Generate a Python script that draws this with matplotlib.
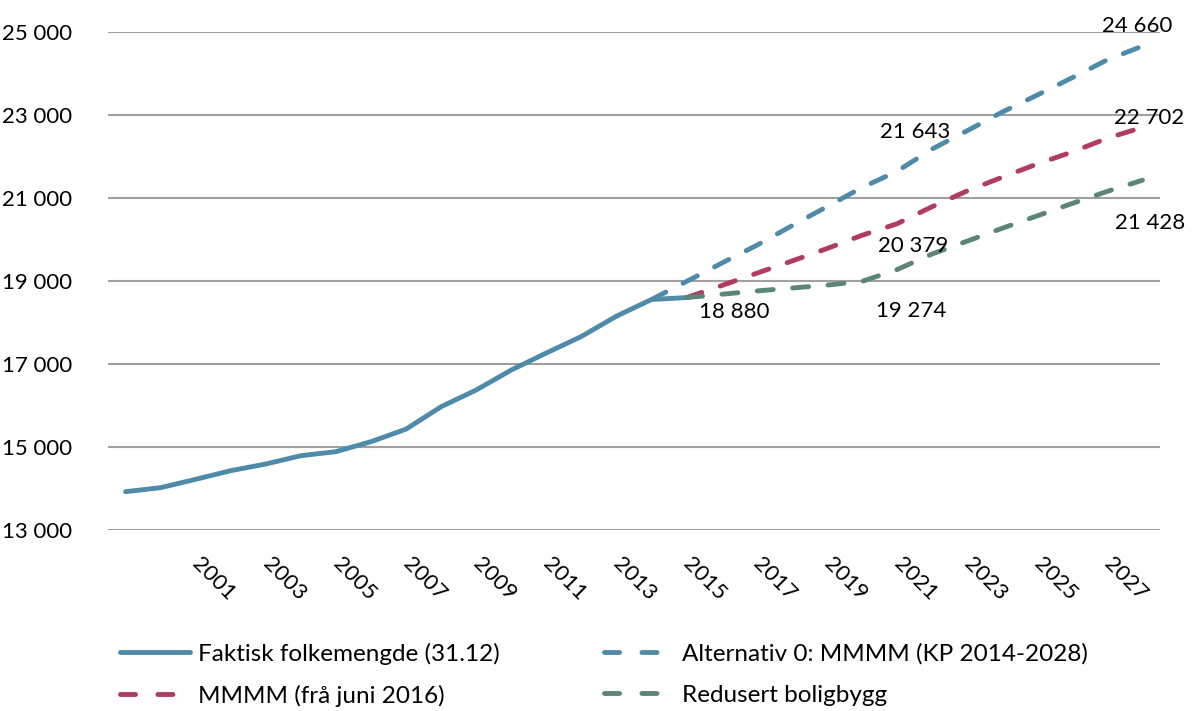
#!/usr/bin/env python3
"""Population in the municipality: actual figures and three forecast alternatives."""

import matplotlib

matplotlib.use("Agg")
import matplotlib.pyplot as plt
from matplotlib.lines import Line2D
from matplotlib.ticker import FuncFormatter

# Actual population 31.12, 1999-2015
YEARS_ACTUAL = list(range(1999, 2016))
POP_ACTUAL = [13923, 14019, 14221, 14429, 14590, 14790, 14887, 15128, 15430,
              15971, 16373, 16855, 17265, 17663, 18153, 18554, 18600]

# Alternativ 0: MMMM (KP 2014-2028), 2014-2028
YEARS_ALT0 = list(range(2014, 2029))
POP_ALT0 = [18554, 18990, 19430, 19860, 20330, 20790, 21250, 21643, 22180,
            22620, 23070, 23480, 23900, 24330, 24660]

# MMMM (fra juni 2016), 2015-2028
YEARS_MMMM = list(range(2015, 2029))
POP_MMMM = [18600, 18890, 19186, 19480, 19780, 20100, 20379, 20790, 21170,
            21500, 21820, 22110, 22440, 22702]

# Redusert boligbygg, 2015-2028
YEARS_RED = list(range(2015, 2029))
POP_RED = [18600, 18680, 18760, 18830, 18900, 18990, 19274, 19650, 19960,
           20270, 20570, 20870, 21160, 21428]

LABELS = [
    "Faktisk folkemengde (31.12)",
    "Alternativ 0: MMMM (KP 2014-2028)",
    "MMMM (frå juni 2016)",
    "Redusert boligbygg",
]
XTICKS = list(range(2001, 2028, 2))
YTICKS = list(range(13000, 25001, 2000))

C_BLUE = "#4f8ba8"
C_RED = "#b13b64"
C_GREEN = "#5b8676"
GRID = "#a0a0a0"
FONT = ["Lato", "DejaVu Sans"]
FS = 16
FS_LEG = 17.5

plt.rcParams["font.family"] = FONT


def space_thousands(v, _pos=None):
    return f"{v:,.0f}".replace(",", " ")


fig = plt.figure(figsize=(11.95, 7.11), dpi=100)
ax = fig.add_axes([0.0904, 0.2546, 0.8803, 0.7004])

lw = 3.5
dash = (3.3, 4.0)
ax.plot(YEARS_ACTUAL, POP_ACTUAL, color=C_BLUE, lw=lw, solid_capstyle="round",
        solid_joinstyle="round", zorder=3)
ax.plot(YEARS_ALT0, POP_ALT0, color=C_BLUE, lw=lw, dashes=dash,
        dash_capstyle="round", zorder=3)
ax.plot(YEARS_MMMM, POP_MMMM, color=C_RED, lw=lw, dashes=dash,
        dash_capstyle="round", zorder=3)
ax.plot(YEARS_RED, POP_RED, color=C_GREEN, lw=lw, dashes=dash,
        dash_capstyle="round", zorder=3)

# value labels: (year, value, offset x px, offset y px)
notes = [
    (2028, POP_ALT0[-1], -5, 14),
    (2028, POP_MMMM[-1], 7, 3),
    (2028, POP_RED[-1], 8, -49),
    (2021, POP_ALT0[YEARS_ALT0.index(2021)], 18, 33),
    (2021, POP_MMMM[YEARS_MMMM.index(2021)], 16, -28),
    (2021, POP_RED[YEARS_RED.index(2021)], 14, -47),
]
for yr, val, dx, dy in notes:
    ax.annotate(space_thousands(val), xy=(yr, val), xytext=(dx, dy),
                textcoords="offset pixels", ha="center", va="baseline",
                fontsize=FS, annotation_clip=False, zorder=4)
ax.annotate("18 880", xy=(2017, POP_RED[YEARS_RED.index(2017)]), xytext=(-22, -27),
            textcoords="offset pixels", ha="center", va="baseline", fontsize=FS)

ax.set_xlim(1998.5, 2028.5)
ax.set_ylim(13000, 25000)
ax.set_yticks(YTICKS)
ax.yaxis.set_major_formatter(FuncFormatter(space_thousands))
ax.set_xticks(XTICKS)
ax.set_xticklabels([str(y) for y in XTICKS], rotation=-45, ha="left", va="center",
                   rotation_mode="anchor")
ax.tick_params(axis="both", length=0, labelsize=FS)
ax.tick_params(axis="x", pad=22)
ax.tick_params(axis="y", pad=26)
ax.grid(axis="y", color=GRID, lw=1.5)
ax.set_axisbelow(True)
for s in ax.spines.values():
    s.set_visible(False)

# legend handles: dash pattern tuned so each key shows two whole dashes
leg_dash = (3.1, 4.6)
h_act = Line2D([], [], color=C_BLUE, lw=lw, solid_capstyle="round")
h_alt = Line2D([], [], color=C_BLUE, lw=lw, dashes=leg_dash, dash_capstyle="round")
h_mm = Line2D([], [], color=C_RED, lw=lw, dashes=leg_dash, dash_capstyle="round")
h_red = Line2D([], [], color=C_GREEN, lw=lw, dashes=leg_dash, dash_capstyle="round")

# row-wise order: matplotlib fills legend columns first
fig.legend([h_act, h_mm, h_alt, h_red],
           [LABELS[0], LABELS[2], LABELS[1], LABELS[3]],
           loc="lower left", bbox_to_anchor=(0.082, -0.025), ncol=2, frameon=False,
           fontsize=FS_LEG, handlelength=2.9, handletextpad=0.3, columnspacing=4.3,
           labelspacing=0.82)

fig.savefig("out.png", dpi=100)
